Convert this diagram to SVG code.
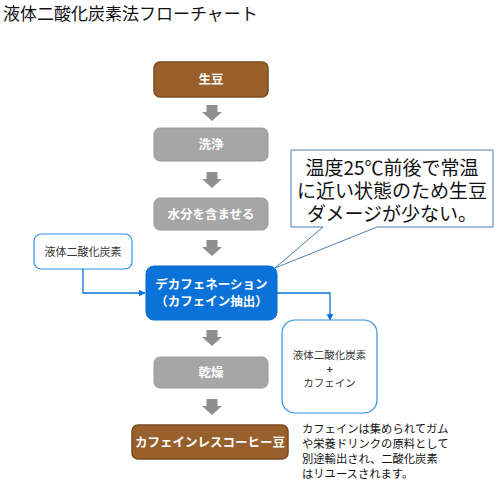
<svg xmlns="http://www.w3.org/2000/svg" width="500" height="484" viewBox="0 0 500 484">
<defs>
<style>
.t{font-family:"Noto Sans CJK JP","Liberation Sans",sans-serif}
.brown{fill:#98602c;stroke:#7a4a1c;stroke-width:1.5}
.gray{fill:#a6a6a6;stroke:#999;stroke-width:1}
.lbl{font-family:"Noto Sans CJK JP",sans-serif;font-weight:bold;font-size:12.5px;fill:#fff;text-anchor:middle}
.dark{font-family:"Noto Sans CJK JP",sans-serif;fill:#333;text-anchor:middle}
.conn{fill:none;stroke:#0a72d8;stroke-width:1.3}
.garrow{fill:#8f8f8f}
</style>
<marker id="ah" viewBox="0 0 10 10" refX="9" refY="5" markerWidth="7" markerHeight="7" markerUnits="userSpaceOnUse" orient="auto">
<path d="M0,0 L10,5 L0,10 z" fill="#0a72d8"/>
</marker>
<path id="ga" d="M-5.5,0 H5.5 V7 H10 L0,16 L-10,7 H-5.5 Z"/>
</defs>
<rect width="500" height="484" fill="#fff"/>
<text x="3" y="20" class="t" font-size="17" fill="#111">液体二酸化炭素法フローチャート</text>

<g id="connectors">
<use href="#ga" class="garrow" x="212" y="105"/>
<use href="#ga" class="garrow" x="212" y="172"/>
<use href="#ga" class="garrow" x="212" y="240"/>
<use href="#ga" class="garrow" x="212" y="330"/>
<use href="#ga" class="garrow" x="212" y="399"/>
<path class="conn" d="M83,269 V293 H145" marker-end="url(#ah)"/>
<path class="conn" d="M277,293 H330 V320" marker-end="url(#ah)"/>
</g>

<g id="n-namame"><rect class="brown" x="154" y="62" width="114" height="35" rx="6"/><text class="lbl" x="211" y="84">生豆</text></g>
<g id="n-wash"><rect class="gray" x="154" y="128" width="114" height="33" rx="6"/><text class="lbl" x="211" y="149">洗浄</text></g>
<g id="n-water"><rect class="gray" x="154" y="198" width="114" height="32" rx="6"/><text class="lbl" x="211" y="219">水分を含ませる</text></g>
<g id="n-co2"><rect x="34" y="234" width="98" height="35" rx="7" fill="#fff" stroke="#2f8fe8" stroke-width="1.2"/><text class="dark" x="83" y="256" font-size="11">液体二酸化炭素</text></g>
<g id="n-decaf"><rect x="146" y="266" width="131" height="54" rx="8" fill="#0a72d8" stroke="#0a6ad0" stroke-width="1"/><text class="lbl" x="211.5" y="289">デカフェネーション</text><text class="lbl" x="211.5" y="306">（カフェイン抽出）</text></g>
<g id="n-out"><rect x="282" y="320" width="95" height="93" rx="13" fill="#fff" stroke="#2f8fe8" stroke-width="1.2"/><text class="dark" x="329.5" y="359" font-size="10.5">液体二酸化炭素</text><text class="dark" x="329.5" y="373" font-size="10.5" font-weight="bold">+</text><text class="dark" x="329.5" y="387" font-size="10.5">カフェイン</text></g>
<g id="n-dry"><rect class="gray" x="154" y="357" width="114" height="31" rx="6"/><text class="lbl" x="211" y="377">乾燥</text></g>
<g id="n-final"><rect class="brown" x="132" y="425" width="156" height="34" rx="6"/><text class="lbl" x="210" y="447">カフェインレスコーヒー豆</text></g>

<g id="callout">
<path d="M291,150 H493 V227 H377 L275,268 L323,227 H291 Z" fill="#fff" stroke="#4a7fb0" stroke-width="1"/>
<text class="t" x="392" y="175" font-size="19" fill="#111" text-anchor="middle">温度25℃前後で常温</text>
<text class="t" x="392" y="198" font-size="19" fill="#111" text-anchor="middle">に近い状態のため生豆</text>
<text class="t" x="392" y="221" font-size="19" fill="#111" text-anchor="middle">ダメージが少ない。</text>
</g>

<g id="note" class="t" font-size="11.3" fill="#111">
<text x="302" y="433">カフェインは集められてガム</text>
<text x="302" y="448">や栄養ドリンクの原料として</text>
<text x="302" y="463">別途輸出され、二酸化炭素</text>
<text x="302" y="478">はリユースされます。</text>
</g>
</svg>
